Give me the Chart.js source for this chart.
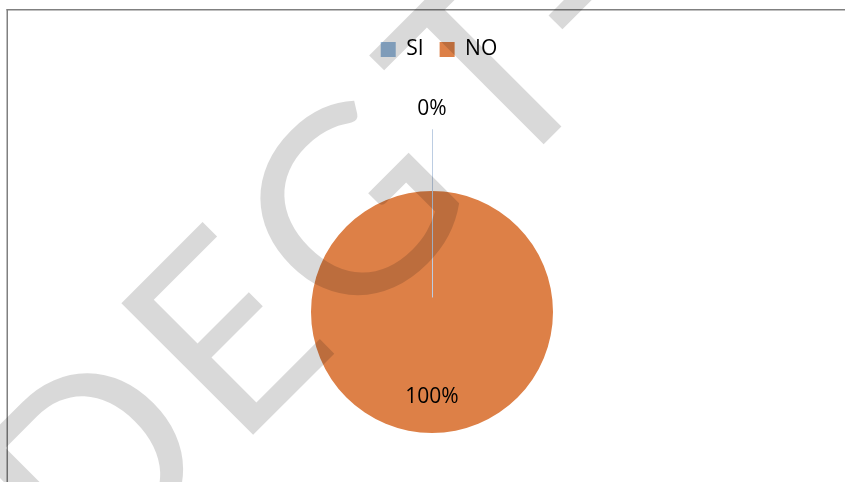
<!DOCTYPE html>
<html lang="es">
  <head>
    <meta charset="UTF-8" />
    <title>SI / NO</title>
    <style>
      body {
        margin: 0;
        background: #fff;
      }
      #chart-box {
        width: 845px;
        height: 482px;
      }
    </style>
  </head>
  <body>
    <div id="chart-box"><canvas id="myChart" width="845" height="482"></canvas></div>
    <script src="https://cdn.jsdelivr.net/npm/chart.js"></script>
    <script>
      const categories = ['SI', 'NO']
      const values = [0, 100]
      const colors = ['#95B8DA', '#DD8047']

      const FONT = "'Open Sans', sans-serif"

      // frame lines of the chart box (left + top only, the rest is cut off)
      const frame = {
        id: 'frame',
        beforeDraw(chart) {
          const ctx = chart.ctx
          ctx.save()
          ctx.fillStyle = '#fff'
          ctx.fillRect(0, 0, chart.width, chart.height)
          ctx.fillStyle = '#808080'
          ctx.fillRect(6.5, 9, 1.5, chart.height)
          ctx.fillRect(6.5, 9, chart.width, 1.5)
          ctx.restore()
        }
      }

      // legend block is stretched so the pie sits lower, and nudged right a bit
      const legendSpace = {
        id: 'legendSpace',
        beforeInit(chart) {
          const fit = chart.legend.fit
          chart.legend.fit = function () {
            fit.bind(chart.legend)()
            this.height = 168
          }
        },
        afterLayout(chart) {
          chart.legend.left += 7
          chart.legend.right += 7
        }
      }

      // percentage labels
      const pctLabels = {
        id: 'pctLabels',
        afterDatasetsDraw(chart) {
          const ctx = chart.ctx
          const meta = chart.getDatasetMeta(0)
          const total = values.reduce((a, b) => a + b, 0)
          ctx.save()
          ctx.font = '21px ' + FONT
          ctx.fillStyle = '#000'
          ctx.textAlign = 'center'
          ctx.textBaseline = 'middle'
          meta.data.forEach((arc, i) => {
            const { x, y, startAngle, endAngle, outerRadius } = arc.getProps(
              ['x', 'y', 'startAngle', 'endAngle', 'outerRadius'],
              true
            )
            const mid = (startAngle + endAngle) / 2
            const pct = Math.round((values[i] / total) * 100) + '%'
            if (values[i] === 0) {
              const lx = Math.round(x + Math.cos(mid) * outerRadius * 1.51) + 0.5
              ctx.strokeStyle = '#bccde2'
              ctx.lineWidth = 1
              ctx.beginPath()
              ctx.moveTo(lx, y + Math.sin(mid) * outerRadius * 1.51)
              ctx.lineTo(lx, y + Math.sin(mid) * outerRadius * 0.12)
              ctx.stroke()
              ctx.fillText(pct, x + Math.cos(mid) * outerRadius * 1.68, y + Math.sin(mid) * outerRadius * 1.68)
            } else {
              ctx.fillText(pct, x + Math.cos(mid) * outerRadius * 0.7, y + Math.sin(mid) * outerRadius * 0.7)
            }
          })
          ctx.restore()
        }
      }

      // grey diagonal watermark over the whole picture
      const watermark = {
        id: 'watermark',
        afterDraw(chart) {
          const ctx = chart.ctx
          ctx.save()
          ctx.globalCompositeOperation = 'multiply'
          ctx.fillStyle = '#d9d9d9'
          ctx.font = '260px Lato'
          ctx.textBaseline = 'alphabetic'
          ctx.translate(344, 344)
          ctx.rotate(-Math.PI / 4)
          const letters = [['D', -175, 'right'], ['E', -132], ['G', 18], ['T', 218], ['-', 377]]
          letters.forEach(([ch, s, side]) => {
            const m = ctx.measureText(ch)
            const x = side === 'right' ? s - m.actualBoundingBoxRight : s + m.actualBoundingBoxLeft
            ctx.fillText(ch, x, 0)
          })
          ctx.restore()
        }
      }

      const ctx = document.getElementById('myChart')
      const myChart = new Chart(ctx, {
        type: 'pie',
        data: {
          labels: categories,
          datasets: [
            {
              data: values,
              backgroundColor: colors,
              borderWidth: 0
            }
          ]
        },
        options: {
          responsive: false,
          animation: false,
          events: [],
          layout: {
            padding: { top: 23, left: 19, right: 0, bottom: 49 }
          },
          plugins: {
            legend: {
              position: 'top',
              labels: {
                boxWidth: 15,
                boxHeight: 15,
                padding: 16,
                color: '#000',
                font: { family: FONT, size: 21 }
              }
            },
            tooltip: { enabled: false }
          }
        },
        plugins: [frame, legendSpace, pctLabels, watermark]
      })
    </script>
  </body>
</html>
